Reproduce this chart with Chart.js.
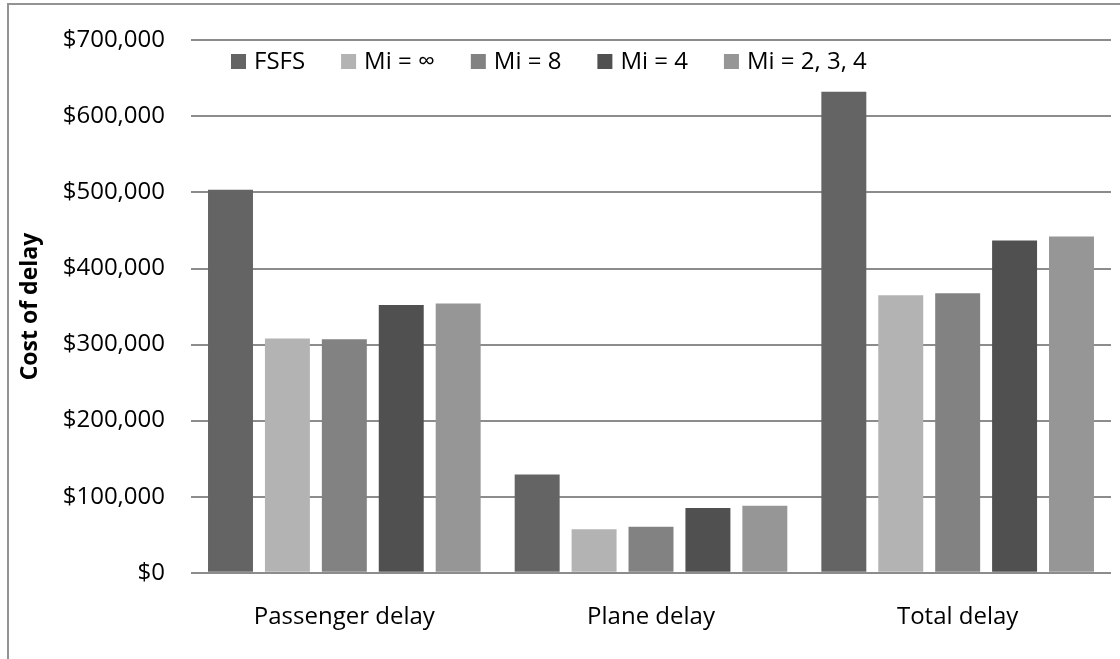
<!DOCTYPE html>
<html>
<head>
<meta charset="utf-8">
<title>Cost of delay</title>
<script src="https://cdn.jsdelivr.net/npm/chart.js@4.4.1/dist/chart.umd.min.js"></script>
<style>
  html, body { margin: 0; padding: 0; background: #ffffff; }
  #wrap { position: relative; width: 1120px; height: 659px; overflow: hidden; }
  #frame { position: absolute; left: 7px; top: 3px; width: 1200px; height: 800px;
           border: 2px solid #939393; box-sizing: border-box; }
  #chart { position: absolute; left: 0; top: 0; }
</style>
</head>
<body>
<div id="wrap">
  <div id="frame"></div>
  <canvas id="chart" width="1120" height="659"></canvas>
</div>
<script>
// Delay categories and the cost of each scheduling rule
const categories = ['Passenger delay', 'Plane delay', 'Total delay'];
const seriesNames = ['FSFS', 'Mi = \u221E', 'Mi = 8', 'Mi = 4', 'Mi = 2, 3, 4'];
const fsfs     = [503500, 129000, 632500];
const miInf    = [308000,  57000, 365000];
const mi8      = [307000,  60500, 367500];
const mi4      = [352000,  85000, 437000];
const mi234    = [354000,  88000, 442000];
const yTickValues = [0, 100000, 200000, 300000, 400000, 500000, 600000, 700000];

const seriesValues = [fsfs, miInf, mi8, mi4, mi234];
const seriesColors = ['#646464', '#b3b3b3', '#828282', '#505050', '#969696'];

const FONT = "'Open Sans', 'DejaVu Sans', sans-serif";
const FONT_SIZE = 24;
const TEXT_COLOR = '#000000';

// Legend row drawn inside the plot area, above the bars
const inlineLegend = {
  id: 'inlineLegend',
  afterDraw(chart) {
    const ctx = chart.ctx;
    const box = 15, textGap = 8, itemGap = 36;
    const cy = 61.5;
    let x = 231;
    ctx.save();
    ctx.font = FONT_SIZE + 'px ' + FONT;
    ctx.textBaseline = 'middle';
    ctx.textAlign = 'left';
    chart.data.datasets.forEach(ds => {
      ctx.fillStyle = ds.backgroundColor;
      ctx.fillRect(x, cy - box / 2, box, box);
      ctx.fillStyle = TEXT_COLOR;
      ctx.fillText(ds.label, x + box + textGap, cy + 1);
      x += box + textGap + ctx.measureText(ds.label).width + itemGap;
    });
    ctx.restore();
  }
};

new Chart(document.getElementById('chart'), {
  type: 'bar',
  data: {
    labels: categories,
    datasets: seriesNames.map((name, i) => ({
      label: name,
      data: seriesValues[i],
      backgroundColor: seriesColors[i],
      borderWidth: 0,
      categoryPercentage: 0.928,
      barPercentage: 0.79
    }))
  },
  options: {
    responsive: false,
    animation: false,
    layout: { padding: { left: 10, right: 9, top: 32.3, bottom: 0 } },
    plugins: {
      legend: { display: false },
      tooltip: { enabled: false },
      title: { display: false }
    },
    scales: {
      x: {
        grid: { display: false, drawTicks: false },
        border: { display: false },
        ticks: { color: TEXT_COLOR, font: { family: FONT, size: FONT_SIZE }, padding: 30 },
        afterFit(scale) { scale.height = 86.3; }
      },
      y: {
        min: 0,
        max: 700000,
        afterBuildTicks(scale) { scale.ticks = yTickValues.map(v => ({ value: v })); },
        afterFit(scale) { scale.width = 181; },
        grid: { color: '#8c8c8c', lineWidth: 2, drawTicks: false },
        border: { display: false },
        ticks: {
          color: TEXT_COLOR,
          font: { family: FONT, size: FONT_SIZE },
          padding: 26,
          callback: v => '$' + Number(v).toLocaleString('en-US')
        },
        title: {
          display: true,
          text: 'Cost of delay',
          color: TEXT_COLOR,
          font: { family: FONT, size: 23, weight: 'bold' },
          padding: { top: 7, bottom: 0 }
        }
      }
    }
  },
  plugins: [inlineLegend]
});
</script>
</body>
</html>
